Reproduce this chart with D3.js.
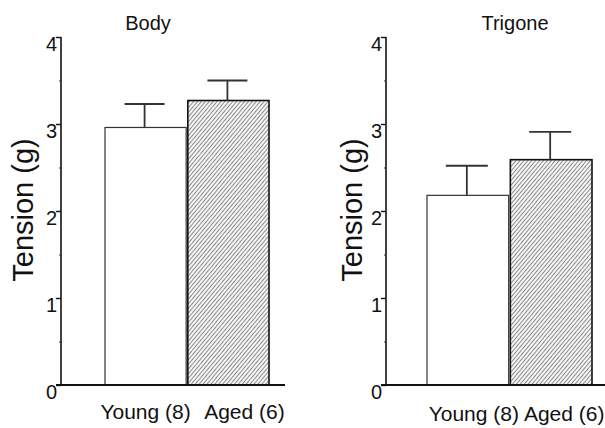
<!DOCTYPE html>
<html><head><meta charset="utf-8">
<script src="https://cdn.jsdelivr.net/npm/d3@7"></script>
<style>body{margin:0;background:#fff}svg{display:block}text{font-family:"Liberation Sans",Arial,sans-serif;fill:#111}</style>
</head><body>
<script>
const categories = ["Young (8)", "Aged (6)"];
const panelTitles = ["Body", "Trigone"];
const bodyMeans = [2.96, 3.27];
const bodyErrors = [0.27, 0.23];
const trigoneMeans = [2.18, 2.59];
const trigoneErrors = [0.34, 0.32];
const yTicks = [0, 1, 2, 3, 4];
const yMinorTicks = [0.5, 1.5, 2.5, 3.5];
const yLabel = "Tension (g)";

const W = 605, H = 428;
const svg = d3.select("body").append("svg").attr("width", W).attr("height", H);

const defs = svg.append("defs");
const pat = defs.append("pattern").attr("id", "hatch").attr("patternUnits", "userSpaceOnUse")
  .attr("width", 3).attr("height", 3).attr("patternTransform", "rotate(40)");
pat.append("rect").attr("width", 3).attr("height", 3).attr("fill", "#f6f6f6");
pat.append("line").attr("x1", 0.5).attr("y1", 0).attr("x2", 0.5).attr("y2", 3)
  .attr("stroke", "#808080").attr("stroke-width", 0.9);

const y = d3.scaleLinear().domain([0, 4]).range([385, 37]);

const panels = [
  { title: panelTitles[0], means: bodyMeans, errs: bodyErrors, axisX: 61, barRange: [105, 269], baseEnd: 285,
    titleX: 148, yLabelX: 33, xLabelY: 419, labelOffsets: [0, 16], capHalf: 20 },
  { title: panelTitles[1], means: trigoneMeans, errs: trigoneErrors, axisX: 386, barRange: [427, 592], baseEnd: 610,
    titleX: 515, yLabelX: 362, xLabelY: 421, labelOffsets: [6, 13], capHalf: 21 }
];

panels.forEach(p => {
  const g = svg.append("g");
  const x = d3.scaleBand().domain(categories).range(p.barRange).paddingInner(0.02);

  const axis = d3.axisLeft(y).tickValues(yTicks).tickSize(5).tickFormat("");
  const ag = g.append("g").attr("transform", `translate(${p.axisX},0)`).call(axis);
  ag.select(".domain").attr("stroke", "#111").attr("stroke-width", 1.6).attr("d", `M0,${y(4)}V${y(0)}`);
  ag.selectAll(".tick line").attr("stroke", "#111").attr("stroke-width", 1.4);
  const minor = d3.axisLeft(y).tickValues(yMinorTicks).tickSize(2).tickFormat("");
  const mg = g.append("g").attr("transform", `translate(${p.axisX},0)`).call(minor);
  mg.select(".domain").remove();
  mg.selectAll(".tick line").attr("stroke", "#333").attr("stroke-width", 1.2);

  g.selectAll(".ylab").data(yTicks).join("text").attr("class", "ylab")
    .attr("x", p.axisX - 4).attr("y", d => y(d) + 14)
    .attr("text-anchor", "end").attr("font-size", 20).text(d => d);

  g.selectAll(".bar").data(categories).join("rect").attr("class", "bar")
    .attr("x", d => x(d)).attr("width", x.bandwidth())
    .attr("y", (d, i) => y(p.means[i])).attr("height", (d, i) => y(0) - y(p.means[i]))
    .attr("fill", (d, i) => i === 0 ? "#fff" : "url(#hatch)")
    .attr("stroke", (d, i) => i === 0 ? "#333" : "#111")
    .attr("stroke-width", (d, i) => i === 0 ? 1.2 : 1.6);

  g.selectAll(".ev").data(categories).join("line").attr("class", "ev")
    .attr("x1", d => x(d) + x.bandwidth() / 2 - 1).attr("x2", d => x(d) + x.bandwidth() / 2 - 1)
    .attr("y1", (d, i) => y(p.means[i])).attr("y2", (d, i) => y(p.means[i] + p.errs[i]))
    .attr("stroke", "#333").attr("stroke-width", 1.8);
  g.selectAll(".ec").data(categories).join("line").attr("class", "ec")
    .attr("x1", d => x(d) + x.bandwidth() / 2 - 1 - p.capHalf).attr("x2", d => x(d) + x.bandwidth() / 2 - 1 + p.capHalf)
    .attr("y1", (d, i) => y(p.means[i] + p.errs[i])).attr("y2", (d, i) => y(p.means[i] + p.errs[i]))
    .attr("stroke", "#333").attr("stroke-width", 1.8);

  g.append("line").attr("x1", p.axisX - 5).attr("x2", p.baseEnd).attr("y1", y(0)).attr("y2", y(0))
    .attr("stroke", "#111").attr("stroke-width", 1.8);

  g.selectAll(".xl").data(categories).join("text").attr("class", "xl")
    .attr("x", (d, i) => x(d) + x.bandwidth() / 2 + p.labelOffsets[i]).attr("y", p.xLabelY)
    .attr("text-anchor", "middle").attr("font-size", 21).text(d => d);

  g.append("text").attr("x", p.titleX).attr("y", 30).attr("text-anchor", "middle")
    .attr("font-size", 20).text(p.title);

  g.append("text").attr("transform", `translate(${p.yLabelX},${210}) rotate(-90)`)
    .attr("text-anchor", "middle").attr("font-size", 29).text(yLabel);
});
</script>
</body></html>
